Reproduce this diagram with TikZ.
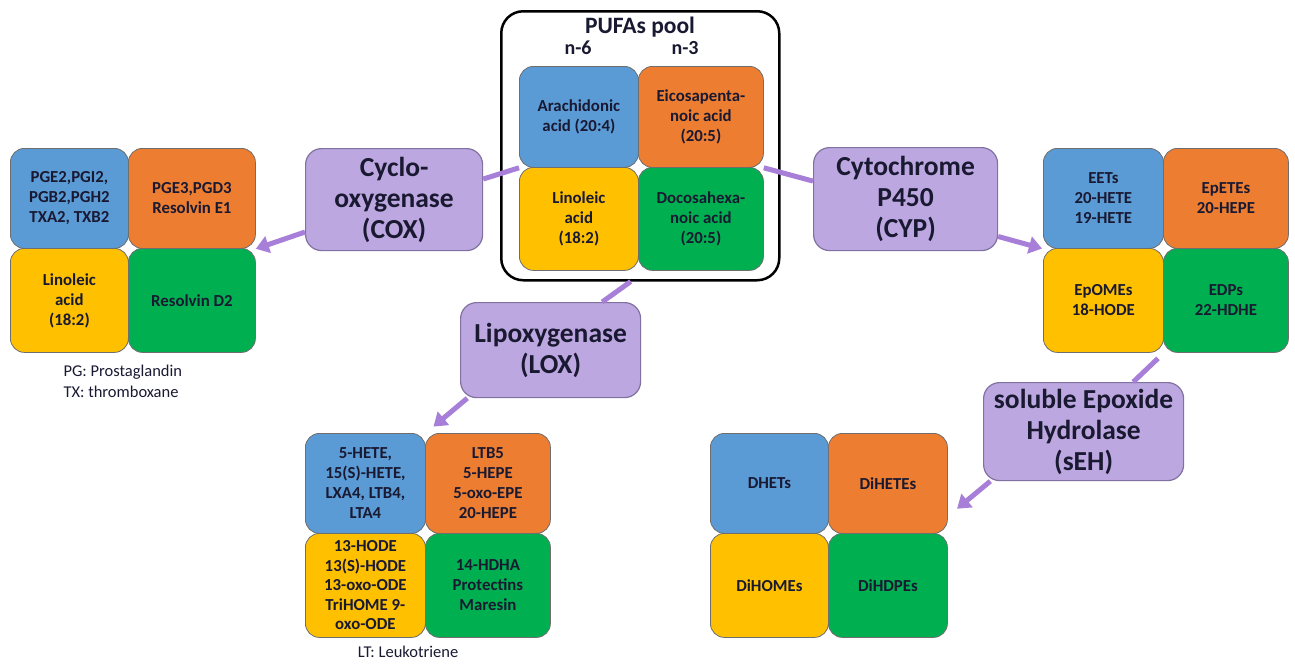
\documentclass[tikz,border=0pt]{standalone}
\usepackage{fontspec}
\setmainfont{Carlito}
\usepackage{tikz}
\usetikzlibrary{arrows.meta}

\definecolor{cellblue}{RGB}{91,155,213}
\definecolor{cellorange}{RGB}{237,125,49}
\definecolor{cellyellow}{RGB}{255,192,0}
\definecolor{cellgreen}{RGB}{0,176,80}
\definecolor{cellline}{RGB}{110,110,110}
\definecolor{enzfill}{RGB}{189,167,224}
\definecolor{enzline}{RGB}{128,114,160}
\definecolor{linkpurple}{RGB}{167,127,216}
\definecolor{ink}{RGB}{25,25,50}

\newcommand{\cellfont}{\fontsize{16.8}{20}\selectfont\bfseries}
\newcommand{\enzfont}{\fontsize{27.5}{31}\selectfont\bfseries}

\begin{document}
\begin{tikzpicture}[x=1pt, y=-1pt,
  cell/.style={draw=cellline, line width=0.8pt, rounded corners=14pt, anchor=north west,
    align=center, text=ink, font=\cellfont, inner sep=1pt},
  enzyme/.style={draw=enzline, fill=enzfill, line width=1.2pt, rounded corners=16pt,
    anchor=north west, align=center, text=ink, font=\enzfont, inner sep=2pt},
  note/.style={text=ink, font=\fontsize{16.5}{20}\selectfont},
  link/.style={draw=linkpurple, line width=5pt},
  flow/.style={link, -{Triangle[width=17pt,length=13pt]}}]
  \path[use as bounding box, fill=white] (0,0) rectangle (1295,665);

  % PUFAs pool
  \node[draw, line width=2.5pt, rounded corners=22pt, anchor=north west, inner sep=0pt,
    minimum width=278pt, minimum height=269pt] (pool) at (500,10) {};
  \node[text=ink, font=\fontsize{23.5}{26}\selectfont\bfseries] (pooltitle) at (640,27) {PUFAs pool};
  \node[text=ink, font=\fontsize{20}{22}\selectfont\bfseries] (nsix) at (578,48) {n-6};
  \node[text=ink, font=\fontsize{20}{22}\selectfont\bfseries] (nthree) at (685,48) {n-3};
  \node[cell, fill=cellblue, minimum width=119pt, minimum height=101pt] (aa) at (519,66) {Arachidonic\\acid (20:4)};
  \node[cell, fill=cellorange, minimum width=125pt, minimum height=101pt] (epa) at (638,66) {Eicosapenta-\\noic acid\\(20:5)};
  \node[cell, fill=cellyellow, minimum width=119pt, minimum height=103pt] (la) at (519,167) {Linoleic\\acid\\(18:2)};
  \node[cell, fill=cellgreen, minimum width=125pt, minimum height=103pt] (dha) at (638,167) {Docosahexa-\\noic acid\\(20:5)};

  % enzymes
  \node[enzyme, minimum width=177pt, minimum height=102pt] (cox) at (305,148) {Cyclo-\\oxygenase\\(COX)};
  \node[enzyme, minimum width=184pt, minimum height=103pt] (cyp) at (813,147) {Cytochrome\\P450\\(CYP)};
  \node[enzyme, minimum width=180pt, minimum height=95pt] (lox) at (460,302) {Lipoxygenase\\(LOX)};
  \node[enzyme, minimum width=200pt, minimum height=98pt] (seh) at (983,382) {soluble Epoxide\\Hydrolase\\(sEH)};

  % COX products
  \node[cell, fill=cellblue, minimum width=118pt, minimum height=100pt] (coxA) at (10,148) {PGE2,PGI2,\\PGB2,PGH2\\TXA2, TXB2};
  \node[cell, fill=cellorange, minimum width=127pt, minimum height=100pt] (coxB) at (128,148) {PGE3,PGD3\\Resolvin E1};
  \node[cell, fill=cellyellow, minimum width=118pt, minimum height=104pt] (coxC) at (10,248) {Linoleic\\acid\\(18:2)};
  \node[cell, fill=cellgreen, minimum width=127pt, minimum height=104pt] (coxD) at (128,248) {Resolvin D2};
  \node[note, anchor=west] (pgnote) at (60,372) {PG: Prostaglandin};
  \node[note, anchor=west] (txnote) at (60,392) {TX: thromboxane};

  % CYP products
  \node[cell, fill=cellblue, minimum width=120pt, minimum height=100pt] (cypA) at (1043,148) {EETs\\20-HETE\\19-HETE};
  \node[cell, fill=cellorange, minimum width=125pt, minimum height=100pt] (cypB) at (1163,148) {EpETEs\\20-HEPE};
  \node[cell, fill=cellyellow, minimum width=120pt, minimum height=104pt] (cypC) at (1043,248) {EpOMEs\\18-HODE};
  \node[cell, fill=cellgreen, minimum width=125pt, minimum height=104pt] (cypD) at (1163,248) {EDPs\\22-HDHE};

  % LOX products
  \node[cell, fill=cellblue, minimum width=120pt, minimum height=100pt] (loxA) at (305,433) {5-HETE,\\15(S)-HETE,\\LXA4, LTB4,\\LTA4};
  \node[cell, fill=cellorange, minimum width=125pt, minimum height=100pt] (loxB) at (425,433) {LTB5\\5-HEPE\\5-oxo-EPE\\20-HEPE};
  \node[cell, fill=cellyellow, minimum width=120pt, minimum height=104pt, font=\fontsize{16.8}{19.5}\selectfont\bfseries] (loxC) at (305,533) {13-HODE\\13(S)-HODE\\13-oxo-ODE\\TriHOME 9-\\oxo-ODE};
  \node[cell, fill=cellgreen, minimum width=125pt, minimum height=104pt] (loxD) at (425,533) {14-HDHA\\Protectins\\Maresin};
  \node[note] (ltnote) at (408,652) {LT: Leukotriene};

  % sEH products
  \node[cell, fill=cellblue, minimum width=118pt, minimum height=100pt] (sehA) at (710,433) {DHETs};
  \node[cell, fill=cellorange, minimum width=119pt, minimum height=100pt] (sehB) at (828,433) {DiHETEs};
  \node[cell, fill=cellyellow, minimum width=118pt, minimum height=104pt] (sehC) at (710,533) {DiHOMEs};
  \node[cell, fill=cellgreen, minimum width=119pt, minimum height=104pt] (sehD) at (828,533) {DiHDPEs};

  % connectors
  \draw[link] (aa.south west) -- (cox.13);
  \draw[flow] (cox.200) -- (coxB.south east);
  \draw[link] (epa.south east) -- (cyp.169);
  \draw[flow, shorten >=1pt] (cyp.-22) -- (cypA.south west);
  \draw[link] (pool.-94) -- (lox.43);
  \draw[flow, shorten >=10pt] (lox.210) -- (loxA.north east);
  \draw[link, shorten <=8pt] (cypC.south east) -- (seh.45);
  \draw[flow, shorten >=12pt] (seh.208) -- ([yshift=-33pt]sehB.east);
\end{tikzpicture}
\end{document}
